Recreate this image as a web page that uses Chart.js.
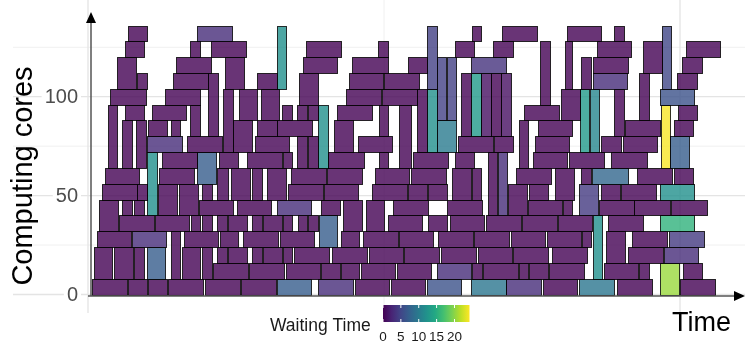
<!DOCTYPE html>
<html>
<head>
<meta charset="utf-8">
<script src="https://cdn.jsdelivr.net/npm/chart.js@4/dist/chart.umd.min.js"></script>
<style>
  html, body { margin: 0; padding: 0; background: #fff; }
</style>
</head>
<body>
<canvas id="myChart" width="745" height="342"></canvas>
<script>
// one entry per job, grouped by the 8-core row where the job starts
var jobStart = [
  1,37,57,77,114,150,186,227,264,300,336,380,415,452,488,526,569,589,
  3,23,43,56,80,91,111,122,158,195,230,250,270,306,346,381,392,428,438,458,502,513,548,592,
  126,137,161,172,192,203,241,278,313,350,387,422,461,515,537,573,
  6,41,93,129,152,189,228,250,272,308,347,383,420,456,491,541,578,
  8,28,64,100,111,126,137,161,172,192,207,217,252,275,297,337,359,395,431,467,517,569,
  31,43,56,67,88,108,146,186,230,302,356,397,407,417,437,472,488,508,543,580,
  11,46,111,126,140,161,176,197,233,281,317,337,361,381,438,464,510,530,569,
  14,68,106,200,236,284,320,425,490,501,546,583,
  17,31,45,71,128,156,192,206,217,227,237,288,308,322,364,428,442,478,520,570,579,
  56,96,132,142,164,243,267,326,336,346,367,403,444,489,499,510,532,
  57,80,99,117,166,186,370,380,390,400,410,447,523,534,583,288,
  34,61,148,170,191,217,246,346,356,433,470,548,587,206,
  19,74,208,255,291,449,569,
  26,46,82,134,166,186,258,293,336,474,490,502,571,586,
  85,212,261,317,380,502,552,591,
  34,99,120,215,287,364,402,506,595,
  37,106,381,411,476,523
];
var jobEnd = [
  36,56,76,112,149,185,220,262,298,334,370,415,450,486,523,561,588,624,
  21,42,53,74,89,109,121,157,193,229,249,268,304,340,380,391,427,437,457,493,511,547,558,611,
  136,156,171,191,201,238,276,312,348,385,421,457,496,534,572,607,
  40,75,127,147,187,223,246,268,307,342,382,418,454,490,500,576,613,
  27,63,98,109,121,136,156,171,191,201,216,227,271,293,331,356,393,430,466,501,552,603,
  41,53,66,86,107,142,180,220,249,337,391,406,416,436,471,481,507,543,579,616,
  46,56,121,137,159,171,195,232,267,316,336,356,380,390,457,483,529,565,603,
  48,103,125,235,271,318,355,460,500,537,581,602,
  26,41,55,106,147,191,201,216,227,237,273,297,320,357,383,437,476,513,556,579,598,
  91,131,142,161,198,262,301,336,346,365,402,422,478,498,508,530,566,
  76,89,109,127,186,221,380,390,400,410,420,481,533,569,602,297,
  53,95,166,188,201,227,281,355,365,468,489,558,606,216,
  55,109,227,290,326,459,603,
  45,56,117,153,186,195,292,328,346,481,500,536,580,606,
  120,246,297,336,415,537,571,611,
  53,109,155,250,297,383,422,540,629,
  56,141,390,446,510,533
];
var jobCoreFrom = [
  0,0,0,0,0,0,0,0,0,0,0,0,0,0,0,0,0,0,
  8,8,8,8,8,8,8,8,8,8,8,8,8,8,8,8,8,8,8,8,8,8,8,8,
  16,16,16,16,16,16,16,16,16,16,16,16,16,16,16,16,
  24,24,24,24,24,24,24,24,24,24,24,24,24,24,24,24,24,
  32,32,32,32,32,32,32,32,32,32,32,32,32,32,32,32,32,32,32,32,32,32,
  40,40,40,40,40,40,40,40,40,40,40,40,40,40,40,40,40,40,40,40,
  48,48,48,48,48,48,48,48,48,48,48,48,48,48,48,48,48,48,48,
  56,56,56,56,56,56,56,56,56,56,56,56,
  64,64,64,64,64,64,64,64,64,64,64,64,64,64,64,64,64,64,64,64,64,
  72,72,72,72,72,72,72,72,72,72,72,72,72,72,72,72,72,
  80,80,80,80,80,80,80,80,80,80,80,80,80,80,80,80,
  88,88,88,88,88,88,88,88,88,88,88,88,88,88,
  96,96,96,96,96,96,96,
  104,104,104,104,104,104,104,104,104,104,104,104,104,104,
  112,112,112,112,112,112,112,112,
  120,120,120,120,120,120,120,120,120,
  128,128,128,128,128,128
];
var jobCoreTo = [
  8,8,8,8,8,8,8,8,8,8,8,8,8,8,8,8,16,8,
  24,24,24,24,32,24,24,16,16,16,16,16,16,16,16,16,16,16,16,16,40,16,16,16,
  24,24,24,24,24,24,24,24,24,24,24,24,24,32,24,24,
  32,32,32,32,32,32,40,32,32,32,32,32,32,32,32,32,32,
  48,40,40,40,40,40,40,40,40,40,40,40,48,48,40,40,40,40,40,40,40,40,
  48,48,72,56,56,48,48,48,48,48,48,72,72,56,48,48,56,48,48,48,
  56,56,56,64,64,64,64,56,56,56,56,56,64,64,56,64,56,56,56,
  64,64,72,64,64,64,64,64,64,64,64,64,
  96,88,88,72,72,72,72,80,80,96,72,72,96,72,72,88,72,72,72,96,80,
  80,80,104,88,80,88,80,104,104,88,80,80,80,104,104,80,80,
  88,88,96,112,88,88,112,112,112,112,112,88,104,88,88,96,
  96,96,104,104,96,96,96,120,120,96,104,112,96,96,
  104,104,112,104,104,128,104,
  120,112,112,120,112,136,112,112,136,128,120,112,136,112,
  120,120,120,120,120,120,128,120,
  128,128,128,128,128,128,128,128,128,
  136,136,136,136,136,136
];
var jobWait = [
  0,0,0,0,0,0,7,3,0,0,6,9.5,3,0,9.5,0,20.5,0,
  0,0,0,7,0,0,0,0,0,0,0,0,0,0,3,0,0,0,0,0,12,0,0,0,
  0,0,0,0,0,0,0,0,0,0,0,0,0,0,0,3,
  0,3,0,0,0,0,7,0,0,0,0,0,0,0,0,0,4,
  0,0,0,0,0,0,0,0,0,0,0,0,0,0,0,0,0,0,0,0,0,15.5,
  0,0,12,0,0,0,0,3,0,0,0,0,3,0,0,0,4,0,0,0,
  0,0,0,0,0,0,0,0,0,0,0,0,0,0,0,0,0,0,12,
  0,0,7,0,0,0,0,0,0,8,0,0,
  0,0,0,0,0,0,0,0,0,12,0,0,0,0,0,0,0,0,0,24,7,
  3,0,0,0,0,0,0,0,12,10,0,0,0,13,11,0,0,
  0,0,0,0,0,0,0,13,1,0,1,0,0,0,0,0,
  0,0,0,0,0,0,0,4.5,4.5,0,0,0,0,0,
  0,0,0,0,0,0,6,
  0,0,0,0,0,12,0,0,4.5,0,0,3,5,0,
  0,0,0,0,3.5,0,0,0,
  0,0,0,0,0,0,0,0,0,
  0,3,0,0,0,0
];

var coreTicks = [0, 50, 100];
var coreMinor = [25, 75, 125];
var timeMajor = [-3, 589];
var timeMinor = [293];
var waitTicks = [0, 5, 10, 15, 20];
var waitLimits = [0, 24.2];

var FONT = '"Liberation Sans", Arial, sans-serif';
var viridisStops = ['#440154','#482475','#414487','#355f8d','#2a788e','#21918c',
                    '#22a884','#44bf70','#7ad151','#bddf26','#fde725'];

function hexRgb(h) {
  return [parseInt(h.substr(1,2),16), parseInt(h.substr(3,2),16), parseInt(h.substr(5,2),16)];
}
function viridis(f, alpha) {
  f = Math.max(0, Math.min(1, f));
  var p = f * 10, i = Math.min(9, Math.floor(p)), r = p - i;
  var a = hexRgb(viridisStops[i]), b = hexRgb(viridisStops[i + 1]);
  var c = [0,1,2].map(function (k) { return Math.round(a[k] + (b[k] - a[k]) * r); });
  return 'rgba(' + c[0] + ',' + c[1] + ',' + c[2] + ',' + alpha + ')';
}
function waitFrac(w) { return (w - waitLimits[0]) / (waitLimits[1] - waitLimits[0]); }

var jobsPlugin = {
  id: 'jobs',
  beforeDatasetsDraw: function (chart) {
    var ctx = chart.ctx, xs = chart.scales.x, ys = chart.scales.y, area = chart.chartArea;
    ctx.save();
    // grid
    function hline(v, col, lw) {
      var y = ys.getPixelForValue(v);
      ctx.strokeStyle = col; ctx.lineWidth = lw;
      ctx.beginPath(); ctx.moveTo(area.left, y); ctx.lineTo(area.right, y); ctx.stroke();
    }
    function vline(v, col, lw) {
      var x = xs.getPixelForValue(v);
      ctx.strokeStyle = col; ctx.lineWidth = lw;
      ctx.beginPath(); ctx.moveTo(x, area.top); ctx.lineTo(x, area.bottom); ctx.stroke();
    }
    coreMinor.forEach(function (v) { hline(v, '#f0f0f0', 1); });
    timeMinor.forEach(function (v) { vline(v, '#f0f0f0', 1); });
    coreTicks.forEach(function (v) { hline(v, '#e4e4e4', 1.3); });
    timeMajor.forEach(function (v) { vline(v, '#e4e4e4', 1.3); });

    // jobs
    ctx.lineWidth = 1;
    for (var i = 0; i < jobStart.length; i++) {
      var x0 = Math.round(xs.getPixelForValue(jobStart[i])) + 0.5;
      var x1 = Math.round(xs.getPixelForValue(jobEnd[i])) + 0.5;
      var y0 = Math.round(ys.getPixelForValue(jobCoreTo[i])) + 0.5;
      var y1 = Math.round(ys.getPixelForValue(jobCoreFrom[i])) + 0.5;
      ctx.fillStyle = viridis(waitFrac(jobWait[i]), 0.8);
      ctx.fillRect(x0, y0, x1 - x0, y1 - y0);
      ctx.strokeStyle = 'rgba(0,0,0,0.8)';
      ctx.strokeRect(x0, y0, x1 - x0, y1 - y0);
    }
    ctx.restore();
  },
  afterDraw: function (chart) {
    var ctx = chart.ctx, xs = chart.scales.x, ys = chart.scales.y;
    ctx.save();
    var x0 = xs.getPixelForValue(0), yAxis = ys.getPixelForValue(0) + 1.5;

    // axes with arrows
    ctx.strokeStyle = '#555'; ctx.lineWidth = 1.5;
    ctx.beginPath(); ctx.moveTo(x0, yAxis); ctx.lineTo(x0, 22); ctx.stroke();
    ctx.beginPath(); ctx.moveTo(x0 - 3, yAxis); ctx.lineTo(736, yAxis); ctx.stroke();
    ctx.fillStyle = '#000';
    ctx.beginPath(); ctx.moveTo(x0, 12); ctx.lineTo(x0 - 5, 23); ctx.lineTo(x0 + 5, 23); ctx.closePath(); ctx.fill();
    ctx.beginPath(); ctx.moveTo(745, yAxis); ctx.lineTo(734, yAxis - 5); ctx.lineTo(734, yAxis + 5); ctx.closePath(); ctx.fill();

    // y tick labels
    ctx.font = '20px ' + FONT;
    ctx.textAlign = 'right'; ctx.textBaseline = 'middle';
    coreTicks.forEach(function (v) {
      var y = ys.getPixelForValue(v), w = ctx.measureText(String(v)).width;
      ctx.fillStyle = '#fff'; ctx.fillRect(78 - w - 3, y - 8, w + 6, 16);
      ctx.fillStyle = '#4d4d4d'; ctx.fillText(String(v), 78, y + 1);
    });

    // axis titles
    ctx.fillStyle = '#000';
    ctx.font = '29px ' + FONT;
    ctx.save();
    ctx.translate(32, 176); ctx.rotate(-Math.PI / 2);
    ctx.textAlign = 'center'; ctx.textBaseline = 'alphabetic';
    ctx.fillText('Computing cores', 0, 0);
    ctx.restore();
    ctx.font = '27px ' + FONT;
    ctx.textAlign = 'left'; ctx.textBaseline = 'alphabetic';
    ctx.fillText('Time', 672, 331);

    // colour bar legend
    var bx0 = 383, bx1 = 469.5, by0 = 305, by1 = 322;
    var grad = ctx.createLinearGradient(bx0, 0, bx1, 0);
    viridisStops.forEach(function (c, k) { grad.addColorStop(k / 10, c); });
    ctx.fillStyle = grad; ctx.fillRect(bx0, by0, bx1 - bx0, by1 - by0);
    ctx.font = '17.5px ' + FONT; ctx.fillStyle = '#1a1a1a';
    ctx.fillText('Waiting Time', 270, 331);
    ctx.font = '13.5px ' + FONT; ctx.textAlign = 'center';
    ctx.strokeStyle = '#fff'; ctx.lineWidth = 1;
    waitTicks.forEach(function (v) {
      var x = bx0 + waitFrac(v) * (bx1 - bx0);
      ctx.beginPath(); ctx.moveTo(x, by0); ctx.lineTo(x, by0 + 3); ctx.stroke();
      ctx.beginPath(); ctx.moveTo(x, by1 - 3); ctx.lineTo(x, by1); ctx.stroke();
      ctx.fillText(String(v), x, 341);
    });
    ctx.restore();
  }
};

var points = jobStart.map(function (s, i) {
  return { x: (s + jobEnd[i]) / 2, y: (jobCoreFrom[i] + jobCoreTo[i]) / 2 };
});

new Chart(document.getElementById('myChart'), {
  type: 'scatter',
  data: { datasets: [{ label: 'jobs', data: points, pointRadius: 0 }] },
  options: {
    responsive: false,
    animation: false,
    devicePixelRatio: 1,
    layout: { padding: { left: 13, right: 0, top: 0, bottom: 29 } },
    plugins: { legend: { display: false }, tooltip: { enabled: false } },
    scales: {
      x: { type: 'linear', display: false, min: -78, max: 654 },
      y: { type: 'linear', display: false, min: -9.35, max: 148.9 }
    }
  },
  plugins: [jobsPlugin]
});
</script>
</body>
</html>
